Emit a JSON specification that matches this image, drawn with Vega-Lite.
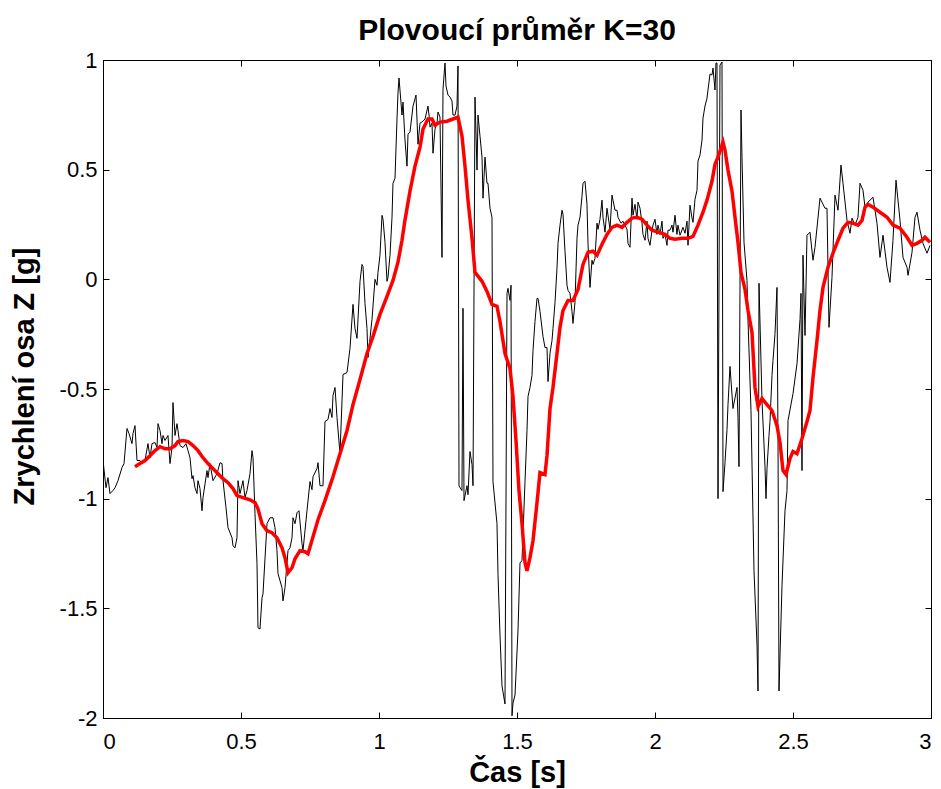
{
  "$schema": "https://vega.github.io/schema/vega-lite/v6.json",
  "width": 828,
  "height": 658,
  "autosize": "none",
  "padding": {"left": 103, "top": 60, "right": 10, "bottom": 71},
  "background": "white",
  "title": {"text": "Plovoucí průměr K=30", "font": "Liberation Sans", "fontSize": 30, "fontWeight": "bold", "color": "black", "anchor": "middle", "offset": 3},
  "config": {
    "view": {"stroke": "black", "strokeWidth": 1},
    "axis": {"grid": false, "domainColor": "black", "tickColor": "black", "labelColor": "black", "titleColor": "black", "labelFont": "Liberation Sans", "titleFont": "Liberation Sans", "labelFontSize": 22, "titleFontSize": 29, "titleFontWeight": "bold", "tickSize": -6, "domainWidth": 1, "tickWidth": 1}
  },
  "datasets": {
    "raw": [
      {"t":0,"v":-0.826},{"t":0.0109,"v":-0.95},{"t":0.0181,"v":-0.904},{"t":0.0254,"v":-0.977},{"t":0.0362,"v":-0.963},{"t":0.0435,"v":-0.95},{"t":0.0543,"v":-0.918},{"t":0.0688,"v":-0.858},{"t":0.0761,"v":-0.84},{"t":0.087,"v":-0.68},{"t":0.0942,"v":-0.703},{"t":0.1051,"v":-0.749},{"t":0.1087,"v":-0.703},{"t":0.1159,"v":-0.667},{"t":0.1232,"v":-0.826},{"t":0.1341,"v":-0.826},{"t":0.1413,"v":-0.84},{"t":0.1522,"v":-0.826},{"t":0.163,"v":-0.749},{"t":0.1703,"v":-0.813},{"t":0.1775,"v":-0.749},{"t":0.1884,"v":-0.744},{"t":0.1957,"v":-0.767},{"t":0.1993,"v":-0.658},{"t":0.2065,"v":-0.689},{"t":0.2138,"v":-0.749},{"t":0.2174,"v":-0.712},{"t":0.2246,"v":-0.735},{"t":0.2355,"v":-0.712},{"t":0.2428,"v":-0.84},{"t":0.25,"v":-0.767},{"t":0.2536,"v":-0.562},{"t":0.2609,"v":-0.712},{"t":0.2681,"v":-0.658},{"t":0.2717,"v":-0.689},{"t":0.279,"v":-0.758},{"t":0.2899,"v":-0.767},{"t":0.3007,"v":-0.749},{"t":0.308,"v":-0.781},{"t":0.3152,"v":-0.813},{"t":0.3225,"v":-0.909},{"t":0.3261,"v":-0.895},{"t":0.3333,"v":-0.95},{"t":0.3406,"v":-0.977},{"t":0.3442,"v":-0.918},{"t":0.3514,"v":-0.954},{"t":0.3587,"v":-1.055},{"t":0.3623,"v":-0.995},{"t":0.3768,"v":-0.872},{"t":0.3804,"v":-0.904},{"t":0.3877,"v":-0.84},{"t":0.3986,"v":-0.918},{"t":0.413,"v":-0.886},{"t":0.4239,"v":-0.836},{"t":0.4312,"v":-0.84},{"t":0.4348,"v":-0.918},{"t":0.4457,"v":-1.041},{"t":0.4529,"v":-1.132},{"t":0.4674,"v":-1.178},{"t":0.471,"v":-1.215},{"t":0.4783,"v":-1.224},{"t":0.4855,"v":-1.178},{"t":0.4891,"v":-0.918},{"t":0.4964,"v":-0.977},{"t":0.5072,"v":-0.918},{"t":0.5145,"v":-0.995},{"t":0.5217,"v":-0.963},{"t":0.5326,"v":-0.886},{"t":0.5399,"v":-0.781},{"t":0.5435,"v":-0.813},{"t":0.5507,"v":-1.068},{"t":0.558,"v":-1.297},{"t":0.5616,"v":-1.589},{"t":0.5688,"v":-1.594},{"t":0.5761,"v":-1.452},{"t":0.5797,"v":-1.434},{"t":0.5942,"v":-1.114},{"t":0.6051,"v":-1.087},{"t":0.6159,"v":-1.087},{"t":0.6232,"v":-1.132},{"t":0.6304,"v":-1.237},{"t":0.6341,"v":-1.342},{"t":0.6486,"v":-1.406},{"t":0.6522,"v":-1.466},{"t":0.6594,"v":-1.406},{"t":0.6703,"v":-1.237},{"t":0.6775,"v":-1.224},{"t":0.6848,"v":-1.178},{"t":0.6884,"v":-1.087},{"t":0.6957,"v":-1.114},{"t":0.7029,"v":-1.064},{"t":0.7101,"v":-1.055},{"t":0.721,"v":-1.205},{"t":0.7246,"v":-1.237},{"t":0.7391,"v":-1.055},{"t":0.75,"v":-0.922},{"t":0.7572,"v":-0.959},{"t":0.7609,"v":-0.9},{"t":0.7754,"v":-0.863},{"t":0.779,"v":-0.836},{"t":0.7862,"v":-0.941},{"t":0.7971,"v":-0.941},{"t":0.8043,"v":-0.648},{"t":0.8152,"v":-0.639},{"t":0.8225,"v":-0.589},{"t":0.8297,"v":-0.63},{"t":0.8333,"v":-0.53},{"t":0.8406,"v":-0.493},{"t":0.8478,"v":-0.63},{"t":0.8587,"v":-0.795},{"t":0.8696,"v":-0.434},{"t":0.8841,"v":-0.425},{"t":0.8949,"v":-0.315},{"t":0.9058,"v":-0.114},{"t":0.913,"v":-0.224},{"t":0.9203,"v":-0.269},{"t":0.9312,"v":-0.009},{"t":0.9384,"v":0.068},{"t":0.942,"v":0.059},{"t":0.9493,"v":-0.11},{"t":0.9565,"v":-0.224},{"t":0.9601,"v":-0.356},{"t":0.9746,"v":-0.183},{"t":0.9855,"v":0},{"t":0.9928,"v":-0.027},{"t":0.9964,"v":0.032},{"t":1.0036,"v":0.11},{"t":1.0109,"v":0.292},{"t":1.0145,"v":0.274},{"t":1.0217,"v":0.169},{"t":1.029,"v":-0.009},{"t":1.0326,"v":0.009},{"t":1.0399,"v":0.11},{"t":1.0471,"v":0.283},{"t":1.0507,"v":0.438},{"t":1.058,"v":0.461},{"t":1.0652,"v":0.731},{"t":1.0688,"v":0.849},{"t":1.0725,"v":0.918},{"t":1.0833,"v":0.749},{"t":1.087,"v":0.808},{"t":1.0942,"v":0.635},{"t":1.1014,"v":0.516},{"t":1.1051,"v":0.662},{"t":1.1123,"v":0.671},{"t":1.1232,"v":0.79},{"t":1.1341,"v":0.84},{"t":1.1413,"v":0.616},{"t":1.1486,"v":0.712},{"t":1.1594,"v":0.721},{"t":1.1667,"v":0.731},{"t":1.1775,"v":0.79},{"t":1.1812,"v":0.749},{"t":1.1848,"v":0.694},{"t":1.192,"v":0.712},{"t":1.1957,"v":0.575},{"t":1.2029,"v":0.685},{"t":1.2101,"v":0.712},{"t":1.2138,"v":0.763},{"t":1.221,"v":0.74},{"t":1.2283,"v":0.1},{"t":1.2319,"v":0.868},{"t":1.2391,"v":0.986},{"t":1.2428,"v":0.881},{"t":1.25,"v":0.84},{"t":1.2572,"v":0.831},{"t":1.2645,"v":0.813},{"t":1.2681,"v":0.749},{"t":1.2754,"v":0.749},{"t":1.2826,"v":0.79},{"t":1.2862,"v":0.973},{"t":1.2899,"v":-0.941},{"t":1.2935,"v":-0.95},{"t":1.3007,"v":-0.963},{"t":1.3043,"v":-0.132},{"t":1.308,"v":-1.009},{"t":1.3188,"v":-0.941},{"t":1.3225,"v":-0.982},{"t":1.3297,"v":-0.785},{"t":1.337,"v":-0.845},{"t":1.3406,"v":-0.941},{"t":1.3478,"v":0.831},{"t":1.3551,"v":0.498},{"t":1.3587,"v":0.749},{"t":1.3659,"v":0.653},{"t":1.3732,"v":0.557},{"t":1.3768,"v":0.37},{"t":1.3841,"v":0.557},{"t":1.3913,"v":0.438},{"t":1.3949,"v":0.438},{"t":1.4022,"v":0.324},{"t":1.4094,"v":0.283},{"t":1.413,"v":-0.922},{"t":1.4275,"v":-1.114},{"t":1.4312,"v":-1.347},{"t":1.4384,"v":-1.621},{"t":1.4457,"v":-1.854},{"t":1.4565,"v":-1.936},{"t":1.4638,"v":-0.064},{"t":1.4674,"v":-0.041},{"t":1.4746,"v":-0.096},{"t":1.4783,"v":-0.027},{"t":1.4819,"v":-1.99},{"t":1.4855,"v":-1.932},{"t":1.4928,"v":-1.895},{"t":1.5036,"v":-1.603},{"t":1.5109,"v":-1.292},{"t":1.5181,"v":-1.283},{"t":1.529,"v":-0.922},{"t":1.5362,"v":-0.689},{"t":1.5399,"v":-0.534},{"t":1.5471,"v":-0.493},{"t":1.5543,"v":-0.438},{"t":1.558,"v":-0.324},{"t":1.5652,"v":-0.192},{"t":1.5725,"v":-0.087},{"t":1.5761,"v":-0.087},{"t":1.5833,"v":-0.146},{"t":1.5942,"v":-0.26},{"t":1.6014,"v":-0.311},{"t":1.6087,"v":-0.311},{"t":1.6123,"v":-0.466},{"t":1.6196,"v":-0.338},{"t":1.6268,"v":-0.279},{"t":1.6304,"v":-0.224},{"t":1.6377,"v":-0.105},{"t":1.6449,"v":0.05},{"t":1.6486,"v":0.164},{"t":1.6558,"v":0.247},{"t":1.663,"v":0.315},{"t":1.6667,"v":0.297},{"t":1.6739,"v":0.128},{"t":1.6812,"v":-0.027},{"t":1.6848,"v":-0.05},{"t":1.692,"v":-0.064},{"t":1.6993,"v":-0.146},{"t":1.7029,"v":-0.201},{"t":1.7101,"v":-0.105},{"t":1.7174,"v":0.187},{"t":1.721,"v":0.247},{"t":1.7283,"v":0.283},{"t":1.7355,"v":0.379},{"t":1.7391,"v":0.438},{"t":1.7464,"v":0.447},{"t":1.7536,"v":0.342},{"t":1.7572,"v":0.164},{"t":1.7645,"v":-0.037},{"t":1.7717,"v":0.087},{"t":1.7754,"v":0.068},{"t":1.7826,"v":0.096},{"t":1.7899,"v":0.256},{"t":1.7935,"v":0.228},{"t":1.8007,"v":0.274},{"t":1.808,"v":0.361},{"t":1.8116,"v":0.283},{"t":1.8188,"v":0.215},{"t":1.8261,"v":0.324},{"t":1.837,"v":0.228},{"t":1.8442,"v":0.384},{"t":1.8478,"v":0.361},{"t":1.8551,"v":0.315},{"t":1.8623,"v":0.315},{"t":1.8659,"v":0.283},{"t":1.8768,"v":0.256},{"t":1.8841,"v":0.265},{"t":1.8986,"v":0.228},{"t":1.9022,"v":0.164},{"t":1.9094,"v":0.146},{"t":1.9167,"v":0.37},{"t":1.9203,"v":0.292},{"t":1.9275,"v":0.342},{"t":1.9348,"v":0.274},{"t":1.9384,"v":0.352},{"t":1.9457,"v":0.324},{"t":1.9529,"v":0.256},{"t":1.9565,"v":0.205},{"t":1.9638,"v":0.178},{"t":1.971,"v":0.265},{"t":1.9746,"v":0.187},{"t":1.9819,"v":0.155},{"t":1.9891,"v":0.224},{"t":1.9928,"v":0.247},{"t":2.0,"v":0.274},{"t":2.0072,"v":0.205},{"t":2.0109,"v":0.247},{"t":2.0181,"v":0.205},{"t":2.0254,"v":0.265},{"t":2.029,"v":0.187},{"t":2.0362,"v":0.205},{"t":2.0435,"v":0.155},{"t":2.0471,"v":0.224},{"t":2.0543,"v":0.224},{"t":2.0616,"v":0.247},{"t":2.0652,"v":0.215},{"t":2.0725,"v":0.292},{"t":2.0797,"v":0.205},{"t":2.0833,"v":0.247},{"t":2.0906,"v":0.201},{"t":2.1014,"v":0.237},{"t":2.1087,"v":0.21},{"t":2.1159,"v":0.265},{"t":2.1196,"v":0.155},{"t":2.1268,"v":0.338},{"t":2.1341,"v":0.279},{"t":2.1377,"v":0.26},{"t":2.1449,"v":0.365},{"t":2.1522,"v":0.406},{"t":2.1558,"v":0.539},{"t":2.163,"v":0.566},{"t":2.1703,"v":0.635},{"t":2.1739,"v":0.735},{"t":2.1812,"v":0.79},{"t":2.1884,"v":0.826},{"t":2.192,"v":0.863},{"t":2.1993,"v":0.936},{"t":2.2065,"v":0.932},{"t":2.2101,"v":0.963},{"t":2.2174,"v":0.863},{"t":2.221,"v":0.986},{"t":2.2246,"v":0.986},{"t":2.2283,"v":-1.0},{"t":2.2355,"v":0.977},{"t":2.2428,"v":0.991},{"t":2.2464,"v":-0.968},{"t":2.2536,"v":-0.836},{"t":2.2609,"v":-0.685},{"t":2.2645,"v":-0.571},{"t":2.2717,"v":-0.397},{"t":2.2826,"v":-0.589},{"t":2.2971,"v":-0.493},{"t":2.3007,"v":-0.63},{"t":2.3043,"v":-0.854},{"t":2.3116,"v":0.772},{"t":2.3152,"v":0.557},{"t":2.3225,"v":0.169},{"t":2.3333,"v":-0.005},{"t":2.337,"v":-0.187},{"t":2.3478,"v":-0.598},{"t":2.3587,"v":-1.329},{"t":2.3696,"v":-1.667},{"t":2.3732,"v":-1.877},{"t":2.3768,"v":-0.018},{"t":2.3877,"v":-0.553},{"t":2.3986,"v":-0.854},{"t":2.4022,"v":-1.0},{"t":2.4058,"v":-0.863},{"t":2.413,"v":-0.712},{"t":2.4167,"v":-0.648},{"t":2.4239,"v":-0.438},{"t":2.4275,"v":-0.37},{"t":2.4348,"v":-0.247},{"t":2.442,"v":-0.037},{"t":2.4457,"v":-0.735},{"t":2.4493,"v":-1.877},{"t":2.4601,"v":-1.397},{"t":2.471,"v":-1.055},{"t":2.4783,"v":-0.963},{"t":2.4819,"v":-0.644},{"t":2.5,"v":-0.521},{"t":2.5145,"v":-0.384},{"t":2.5254,"v":-0.183},{"t":2.529,"v":-0.064},{"t":2.5326,"v":-0.872},{"t":2.5362,"v":0.11},{"t":2.5435,"v":-0.256},{"t":2.5507,"v":0.201},{"t":2.5616,"v":0.215},{"t":2.5725,"v":0.087},{"t":2.5797,"v":0.146},{"t":2.5978,"v":0.37},{"t":2.6159,"v":0.324},{"t":2.6232,"v":0.324},{"t":2.6304,"v":-0.219},{"t":2.6413,"v":0.009},{"t":2.6522,"v":0.384},{"t":2.663,"v":0.315},{"t":2.6739,"v":0.521},{"t":2.6812,"v":0.438},{"t":2.6957,"v":0.269},{"t":2.7065,"v":0.21},{"t":2.7138,"v":0.279},{"t":2.7246,"v":0.247},{"t":2.7355,"v":0.283},{"t":2.7428,"v":0.438},{"t":2.7536,"v":0.406},{"t":2.7609,"v":0.329},{"t":2.7717,"v":0.352},{"t":2.7899,"v":0.374},{"t":2.8043,"v":0.256},{"t":2.8152,"v":0.1},{"t":2.8261,"v":0.201},{"t":2.8406,"v":0.055},{"t":2.8514,"v":-0.014},{"t":2.8623,"v":0.178},{"t":2.8732,"v":0.452},{"t":2.8877,"v":0.269},{"t":2.8986,"v":0.1},{"t":2.913,"v":0.055},{"t":2.9167,"v":0.018},{"t":2.9312,"v":0.123},{"t":2.942,"v":0.283},{"t":2.9493,"v":0.306},{"t":2.9601,"v":0.224},{"t":2.971,"v":0.164},{"t":2.9855,"v":0.119},{"t":2.9964,"v":0.155}
    ],
    "avg": [
      {"t":0.1159,"v":-0.854},{"t":0.1341,"v":-0.84},{"t":0.1522,"v":-0.826},{"t":0.1703,"v":-0.804},{"t":0.1884,"v":-0.781},{"t":0.2065,"v":-0.763},{"t":0.2246,"v":-0.772},{"t":0.2428,"v":-0.772},{"t":0.2609,"v":-0.758},{"t":0.2717,"v":-0.74},{"t":0.2899,"v":-0.735},{"t":0.308,"v":-0.74},{"t":0.3261,"v":-0.758},{"t":0.3442,"v":-0.781},{"t":0.3623,"v":-0.813},{"t":0.3804,"v":-0.84},{"t":0.3986,"v":-0.863},{"t":0.4167,"v":-0.886},{"t":0.4348,"v":-0.909},{"t":0.4529,"v":-0.927},{"t":0.471,"v":-0.954},{"t":0.4855,"v":-0.986},{"t":0.5072,"v":-0.995},{"t":0.5326,"v":-1.005},{"t":0.5507,"v":-1.018},{"t":0.5616,"v":-1.046},{"t":0.5761,"v":-1.114},{"t":0.5942,"v":-1.146},{"t":0.6123,"v":-1.155},{"t":0.6304,"v":-1.178},{"t":0.6486,"v":-1.224},{"t":0.6594,"v":-1.269},{"t":0.6703,"v":-1.338},{"t":0.6848,"v":-1.315},{"t":0.6957,"v":-1.274},{"t":0.7138,"v":-1.237},{"t":0.7319,"v":-1.242},{"t":0.7428,"v":-1.251},{"t":0.7609,"v":-1.174},{"t":0.779,"v":-1.096},{"t":0.8043,"v":-1.009},{"t":0.8333,"v":-0.9},{"t":0.8587,"v":-0.795},{"t":0.8841,"v":-0.689},{"t":0.9058,"v":-0.571},{"t":0.9312,"v":-0.457},{"t":0.9565,"v":-0.338},{"t":0.9783,"v":-0.26},{"t":1.0036,"v":-0.16},{"t":1.029,"v":-0.078},{"t":1.0507,"v":-0.005},{"t":1.0688,"v":0.078},{"t":1.0833,"v":0.178},{"t":1.0942,"v":0.27},{"t":1.1123,"v":0.402},{"t":1.1304,"v":0.516},{"t":1.1486,"v":0.603},{"t":1.1594,"v":0.685},{"t":1.1775,"v":0.731},{"t":1.192,"v":0.731},{"t":1.2029,"v":0.703},{"t":1.221,"v":0.717},{"t":1.2464,"v":0.721},{"t":1.2681,"v":0.731},{"t":1.2862,"v":0.74},{"t":1.3007,"v":0.653},{"t":1.3116,"v":0.516},{"t":1.3225,"v":0.361},{"t":1.337,"v":0.187},{"t":1.3478,"v":0.032},{"t":1.3732,"v":-0.009},{"t":1.3913,"v":-0.055},{"t":1.4094,"v":-0.114},{"t":1.4275,"v":-0.123},{"t":1.4384,"v":-0.192},{"t":1.4565,"v":-0.338},{"t":1.4746,"v":-0.406},{"t":1.4855,"v":-0.534},{"t":1.4964,"v":-0.735},{"t":1.5072,"v":-0.963},{"t":1.5181,"v":-1.114},{"t":1.529,"v":-1.292},{"t":1.5362,"v":-1.329},{"t":1.5471,"v":-1.269},{"t":1.558,"v":-1.192},{"t":1.5725,"v":-1.018},{"t":1.5833,"v":-0.881},{"t":1.6014,"v":-0.89},{"t":1.6087,"v":-0.804},{"t":1.6196,"v":-0.589},{"t":1.6304,"v":-0.493},{"t":1.6449,"v":-0.338},{"t":1.6558,"v":-0.219},{"t":1.6667,"v":-0.142},{"t":1.6848,"v":-0.096},{"t":1.7029,"v":-0.096},{"t":1.721,"v":-0.046},{"t":1.7391,"v":0.068},{"t":1.7572,"v":0.123},{"t":1.7754,"v":0.128},{"t":1.7899,"v":0.11},{"t":1.808,"v":0.16},{"t":1.8261,"v":0.205},{"t":1.8442,"v":0.237},{"t":1.8623,"v":0.247},{"t":1.8804,"v":0.237},{"t":1.8986,"v":0.26},{"t":1.9167,"v":0.279},{"t":1.9348,"v":0.283},{"t":1.9529,"v":0.274},{"t":1.971,"v":0.247},{"t":1.9891,"v":0.224},{"t":2.0109,"v":0.215},{"t":2.0362,"v":0.205},{"t":2.0543,"v":0.187},{"t":2.0725,"v":0.183},{"t":2.0978,"v":0.187},{"t":2.1196,"v":0.187},{"t":2.1377,"v":0.196},{"t":2.1558,"v":0.247},{"t":2.1739,"v":0.306},{"t":2.1884,"v":0.361},{"t":2.2065,"v":0.447},{"t":2.2174,"v":0.525},{"t":2.2283,"v":0.557},{"t":2.2428,"v":0.612},{"t":2.2464,"v":0.626},{"t":2.2536,"v":0.589},{"t":2.2645,"v":0.498},{"t":2.279,"v":0.402},{"t":2.2899,"v":0.283},{"t":2.3007,"v":0.169},{"t":2.3116,"v":0.032},{"t":2.3261,"v":-0.046},{"t":2.337,"v":-0.142},{"t":2.3514,"v":-0.242},{"t":2.3623,"v":-0.493},{"t":2.3732,"v":-0.58},{"t":2.3877,"v":-0.543},{"t":2.4058,"v":-0.571},{"t":2.4239,"v":-0.598},{"t":2.442,"v":-0.667},{"t":2.4529,"v":-0.744},{"t":2.4638,"v":-0.872},{"t":2.4746,"v":-0.89},{"t":2.4891,"v":-0.817},{"t":2.5,"v":-0.785},{"t":2.5145,"v":-0.795},{"t":2.5326,"v":-0.726},{"t":2.5507,"v":-0.648},{"t":2.5616,"v":-0.598},{"t":2.5725,"v":-0.447},{"t":2.587,"v":-0.279},{"t":2.5978,"v":-0.142},{"t":2.6087,"v":-0.037},{"t":2.6268,"v":0.055},{"t":2.6449,"v":0.119},{"t":2.663,"v":0.178},{"t":2.6812,"v":0.233},{"t":2.6993,"v":0.26},{"t":2.7174,"v":0.256},{"t":2.7355,"v":0.247},{"t":2.75,"v":0.269},{"t":2.7609,"v":0.329},{"t":2.7717,"v":0.342},{"t":2.7899,"v":0.329},{"t":2.8152,"v":0.306},{"t":2.8406,"v":0.283},{"t":2.8623,"v":0.247},{"t":2.8877,"v":0.233},{"t":2.913,"v":0.192},{"t":2.9312,"v":0.155},{"t":2.9493,"v":0.164},{"t":2.9674,"v":0.178},{"t":2.9783,"v":0.192},{"t":2.9964,"v":0.169}
    ]
  },
  "layer": [
    {
      "data": {"name": "raw"},
      "mark": {"type": "line", "color": "black", "strokeWidth": 1, "clip": true},
      "encoding": {
        "x": {"field": "t", "type": "quantitative", "scale": {"domain": [0, 3], "nice": false, "zero": false},
              "axis": {"orient": "bottom", "values": [0, 0.5, 1, 1.5, 2, 2.5, 3], "labelExpr": "'' + datum.value", "labelPadding": 19, "title": "Čas [s]", "titleY": 63, "titleBaseline": "alphabetic"}},
        "y": {"field": "v", "type": "quantitative", "scale": {"domain": [-2, 1], "nice": false, "zero": false},
              "axis": {"orient": "left", "values": [-2, -1.5, -1, -0.5, 0, 0.5, 1], "labelExpr": "'' + datum.value", "labelPadding": 12, "title": "Zrychlení osa Z [g]", "titleX": -70, "titleY": 316, "titleBaseline": "alphabetic"}}
      }
    },
    {
      "data": {"name": "avg"},
      "mark": {"type": "line", "color": "#ff0000", "strokeWidth": 3.5, "clip": true},
      "encoding": {
        "x": {"field": "t", "type": "quantitative", "scale": {"domain": [0, 3], "nice": false, "zero": false},
              "axis": {"orient": "top", "values": [0, 0.5, 1, 1.5, 2, 2.5, 3], "labels": false, "title": null}},
        "y": {"field": "v", "type": "quantitative", "scale": {"domain": [-2, 1], "nice": false, "zero": false},
              "axis": {"orient": "right", "values": [-2, -1.5, -1, -0.5, 0, 0.5, 1], "labels": false, "title": null}}
      }
    }
  ],
  "resolve": {"axis": {"x": "independent", "y": "independent"}}
}
